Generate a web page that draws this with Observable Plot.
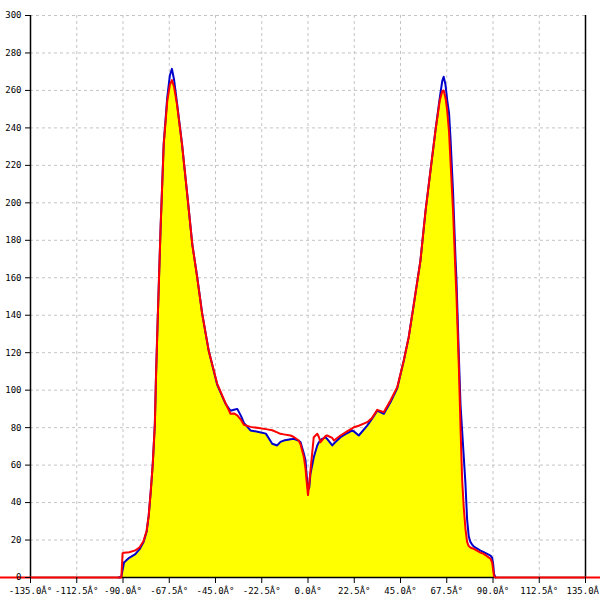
<!DOCTYPE html>
<html>
<head>
<meta charset="utf-8">
<script src="https://cdn.jsdelivr.net/npm/d3@7"></script>
<script src="https://cdn.jsdelivr.net/npm/@observablehq/plot@0.6"></script>
<style>
  html, body { margin: 0; padding: 0; background: #fff; overflow: hidden; }
  svg { overflow: hidden; }
</style>
</head>
<body>
<div id="chart"></div>
<script>
// Angles (degrees) shared by both series
const angles = [-150, -92, -90.8, -90.2, -89.5, -87, -84, -82, -80, -78.5, -77.5, -76.5, -75.5, -74.5, -74, -73.2, -71.7, -70.2, -68.5, -67.2, -66.2, -65.2, -63.8, -61.3, -58.8, -56.3, -53.9, -51.5, -48.3, -44.2, -40.1, -37.7, -36, -34.4, -32.5, -31.2, -28, -24, -20.5, -17.4, -15, -13.4, -11.8, -8.5, -6.9, -4.5, -3.6, -2, -1.2, -0.7, 0, 0.6, 1.2, 2.8, 4.5, 5.3, 6.1, 8.5, 9.3, 11.8, 12.6, 15.8, 19, 21.5, 22.3, 24.7, 28.8, 31, 33.7, 36.9, 40.1, 43.4, 46.6, 49, 51.5, 54.7, 57.2, 59.6, 62, 64.1, 65.3, 66, 66.9, 67.7, 68.6, 69.3, 70.6, 71.8, 72.2, 73.4, 74.2, 75, 75.8, 76.6, 77.4, 78.2, 79, 79.9, 80.7, 83.9, 85.5, 88.8, 89.6, 90.1, 90.5, 91.2, 150];
// Red series
const redValues = [0, 0, 0, 13, 13.2, 13.5, 14.5, 16, 19.5, 25, 33, 46, 61, 82, 105, 135, 187, 231, 254, 263, 265.5, 262, 253, 231.5, 205, 178, 160, 141, 121, 103.5, 93, 87.4, 87.6, 86.5, 84, 81.5, 80.4, 79.8, 79.2, 78.6, 77.5, 76.7, 76.4, 75.8, 75, 73.1, 71, 64.2, 58, 51.8, 44, 50, 57.1, 74.9, 76.7, 75, 72.2, 75.5, 75.8, 74.5, 73.1, 75.8, 78, 79.6, 80.2, 81, 82.9, 85, 89.5, 88.3, 94.5, 101.6, 115.8, 128.3, 146.1, 169.2, 195.9, 217.3, 238.6, 254.6, 259.5, 260, 256, 249.3, 238, 222.6, 195, 161, 151.4, 112, 80, 52, 37, 26, 19, 16.8, 16, 15.6, 15.3, 13.3, 12.6, 10, 8, 4, 0.5, 0, 0];
// Blue series
const blueValues = [null, 0, 0.5, 4, 8, 10.5, 12.5, 15, 19, 24.5, 33, 46, 61, 82, 105, 135, 187, 231.5, 256, 268, 271.5, 266, 254, 231.5, 205, 178, 160.5, 141, 121, 103, 92.7, 89, 89.5, 90, 86, 82.5, 78.5, 77.7, 76.8, 71.4, 70.5, 72.4, 73.1, 73.8, 74, 73, 72.2, 66, 62.5, 55, 47, 48, 55.4, 64.2, 70.5, 72.2, 73.5, 74.9, 74, 70.5, 71.5, 74.9, 77, 78.5, 78, 75.8, 81.1, 84.5, 89.1, 87.4, 93.5, 101, 115.8, 128.3, 146.1, 169.2, 195.9, 217.3, 238.6, 256, 265, 267.3, 263, 255, 248, 235, 205, 169.2, 160, 118, 92, 78, 64, 50, 31, 22, 19, 17.5, 16.5, 14.4, 13.5, 11.7, 10.5, 7, 2, 0, null];
// Axis ticks
const xTicks = [-135, -112.5, -90, -67.5, -45, -22.5, 0, 22.5, 45, 67.5, 90, 112.5, 135];
const yTicks = [0, 20, 40, 60, 80, 100, 120, 140, 160, 180, 200, 220, 240, 260, 280, 300];
const xDomain = [-135, 135];
const yDomain = [0, 300];

const rows = angles.map((a, i) => ({a, r: redValues[i], b: blueValues[i]}));
const fillRows = rows.filter(d => d.r != null && d.b != null);

const font = "'DejaVu Sans Mono', monospace";

const chart = Plot.plot({
  width: 600,
  height: 600,
  marginLeft: 30,
  marginRight: 15,
  marginTop: 15,
  marginBottom: 23,
  style: {fontFamily: font, fontSize: "9px", color: "#000", background: "#fff", overflow: "hidden"},
  x: {domain: xDomain, label: null},
  y: {domain: yDomain, label: null},
  marks: [
    Plot.gridX(xTicks, {stroke: "#c4c4c4", strokeOpacity: 1, strokeDasharray: "3,3", strokeWidth: 1}),
    Plot.gridY(yTicks, {stroke: "#c4c4c4", strokeOpacity: 1, strokeDasharray: "3,3", strokeWidth: 1}),
    Plot.areaY(fillRows, {x: "a", y: d => Math.min(d.r, d.b), fill: "#ffff00", curve: "linear"}),
    Plot.ruleY([0], {stroke: "#000", strokeWidth: 1.5}),
    Plot.ruleX([xDomain[0], xDomain[1]], {stroke: "#000", strokeWidth: 1.5}),
    Plot.line(rows, {x: "a", y: "b", stroke: "#0000cc", strokeWidth: 2}),
    Plot.line(rows, {x: "a", y: "r", stroke: "#ff0000", strokeWidth: 2}),
    Plot.axisY(yTicks, {tickSize: 5, tickPadding: 4, fontFamily: font, fontSize: 9, stroke: "#000", label: null}),
    Plot.axisX(xTicks, {tickSize: 6, tickPadding: 4, fontFamily: font, fontSize: 9, label: null, tickFormat: d => d.toFixed(1) + "Â°"})
  ]
});
document.getElementById("chart").appendChild(chart);
</script>
</body>
</html>
